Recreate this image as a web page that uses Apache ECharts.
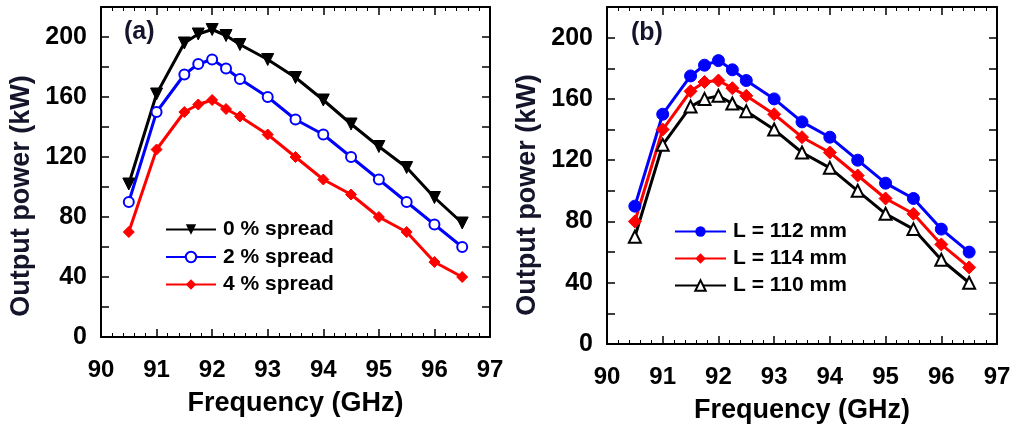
<!DOCTYPE html>
<html>
<head>
<meta charset="utf-8">
<script src="https://cdn.jsdelivr.net/npm/echarts@6/dist/echarts.min.js"></script>
<style>
html,body{margin:0;padding:0;background:#fff;}
#chart{width:1018px;height:432px;}
</style>
</head>
<body>
<div id="chart"></div>
<script>
// ---- data ----
const freq = [90.5, 91, 91.5, 91.75, 92, 92.25, 92.5, 93, 93.5, 94, 94.5, 95, 95.5, 96, 96.5];
const spread0 = [102, 162, 196, 202, 205, 201, 195, 185, 173, 158, 142, 127, 113, 93, 76];
const spread2 = [90, 150, 175, 182, 185, 179, 172, 160, 145, 135, 120, 105, 90, 75, 60];
const spread4 = [70, 125, 150, 155, 158, 152, 147, 135, 120, 105, 95, 80, 70, 50, 40];
const L112 = [90, 150, 175, 182, 185, 179, 172, 160, 145, 135, 120, 105, 95, 75, 60];
const L114 = [80, 140, 165, 171, 172, 167, 162, 150, 135, 125, 110, 95, 85, 65, 50];
const L110 = [70, 130, 155, 160, 162, 157, 152, 140, 125, 115, 100, 85, 75, 55, 40];
const xTicks = [90, 91, 92, 93, 94, 95, 96, 97];
const yTicks = [0, 40, 80, 120, 160, 200];
const seriesNamesA = ['0 % spread', '2 % spread', '4 % spread'];
const seriesNamesB = ['L = 112 mm', 'L = 114 mm', 'L = 110 mm'];
const xTitle = 'Frequency (GHz)';
const yTitle = 'Output power (kW)';

const FONT = '"Liberation Sans", Arial, Helvetica, sans-serif';
const pair = (ys) => freq.map((f, i) => [f, ys[i]]);

function xAxisDef(gi, pos, main) {
  return {
    gridIndex: gi, type: 'value', position: pos,
    min: xTicks[0], max: xTicks[xTicks.length - 1], interval: 1,
    axisLine: { show: true, onZero: false, lineStyle: { color: '#000', width: 2 } },
    axisTick: { show: true, inside: true, length: 8, lineStyle: { color: '#000', width: 1.5 } },
    minorTick: { show: true, splitNumber: 5, length: 4, lineStyle: { color: '#000', width: 1 } },
    splitLine: { show: false }, minorSplitLine: { show: false },
    axisLabel: main ? { show: true, fontSize: 24, fontWeight: 'bold', color: '#000', fontFamily: FONT, margin: 21 } : { show: false },
    name: main ? xTitle : '', nameLocation: 'middle', nameGap: 53,
    nameTextStyle: { fontSize: 27, fontWeight: 'bold', color: '#000', fontFamily: FONT }
  };
}
function yAxisDef(gi, pos, main) {
  return {
    gridIndex: gi, type: 'value', position: pos,
    min: 0, max: 220, interval: 20,
    axisLine: { show: true, onZero: false, lineStyle: { color: '#000', width: 2 } },
    axisTick: { show: true, inside: true, length: 8, lineStyle: { color: '#000', width: 1.5 } },
    splitLine: { show: false },
    axisLabel: main ? {
      show: true, fontSize: 25, fontWeight: 'bold', color: '#000', fontFamily: FONT, margin: 14,
      formatter: (v) => yTicks.indexOf(v) >= 0 ? String(v) : ''
    } : { show: false }
  };
}

function lineSeries(name, data, xi, yi, color, symbol, size, extra) {
  return Object.assign({
    name, type: 'line', xAxisIndex: xi, yAxisIndex: yi, data: pair(data),
    symbol, symbolSize: size,
    lineStyle: { color, width: 3 },
    itemStyle: { color, borderColor: color },
    z: 3
  }, extra || {});
}

const titleStyle = { text: yTitle, fontSize: 27, fontWeight: 'bold', fill: '#14142a', fontFamily: FONT, textAlign: 'center', textVerticalAlign: 'middle' };
const legendText = { fontSize: 21, fontWeight: 'bold', color: '#000', fontFamily: FONT, padding: [0, 0, 0, 2], lineHeight: 20 };

const chart = echarts.init(document.getElementById('chart'), null, { renderer: 'canvas' });
chart.setOption({
  animation: false,
  backgroundColor: '#fff',
  grid: [
    { left: 101, top: 7, width: 389, height: 330 },
    { left: 607, top: 7, width: 390, height: 337 }
  ],
  xAxis: [xAxisDef(0, 'bottom', true), xAxisDef(0, 'top', false), xAxisDef(1, 'bottom', true), xAxisDef(1, 'top', false)],
  yAxis: [yAxisDef(0, 'left', true), yAxisDef(0, 'right', false), yAxisDef(1, 'left', true), yAxisDef(1, 'right', false)],
  legend: [
    {
      orient: 'vertical', left: 160, top: 214, itemWidth: 50, itemHeight: 13, itemGap: 6.5,
      data: seriesNamesA, textStyle: legendText
    },
    {
      orient: 'vertical', left: 669, top: 216, itemWidth: 51, itemHeight: 13, itemGap: 6,
      data: seriesNamesB, textStyle: legendText
    }
  ],
  graphic: [
    { type: 'text', left: 124, top: 20, style: { text: '(a)', fontSize: 25, fontWeight: 'bold', fill: '#14142a', fontFamily: FONT } },
    { type: 'text', left: 631, top: 21, style: { text: '(b)', fontSize: 25, fontWeight: 'bold', fill: '#14142a', fontFamily: FONT } },
    { type: 'text', x: 22, y: 196, rotation: Math.PI / 2, style: titleStyle },
    { type: 'text', x: 528, y: 195, rotation: Math.PI / 2, style: titleStyle }
  ],
  series: [
    lineSeries(seriesNamesA[0], spread0, 0, 0, '#000000', 'triangle', 12, { symbolRotate: 180 }),
    lineSeries(seriesNamesA[1], spread2, 0, 0, '#0000ff', 'emptyCircle', 10, { itemStyle: { color: '#0000ff', borderColor: '#0000ff', borderWidth: 2.5 } }),
    lineSeries(seriesNamesA[2], spread4, 0, 0, '#ff0000', 'diamond', 11),
    lineSeries(seriesNamesB[0], L112, 2, 2, '#0000ff', 'circle', 12),
    lineSeries(seriesNamesB[1], L114, 2, 2, '#ff0000', 'diamond', 13),
    lineSeries(seriesNamesB[2], L110, 2, 2, '#000000', 'triangle', 12, { itemStyle: { color: '#ffffff', borderColor: '#000000', borderWidth: 2 } })
  ]
});
</script>
</body>
</html>
